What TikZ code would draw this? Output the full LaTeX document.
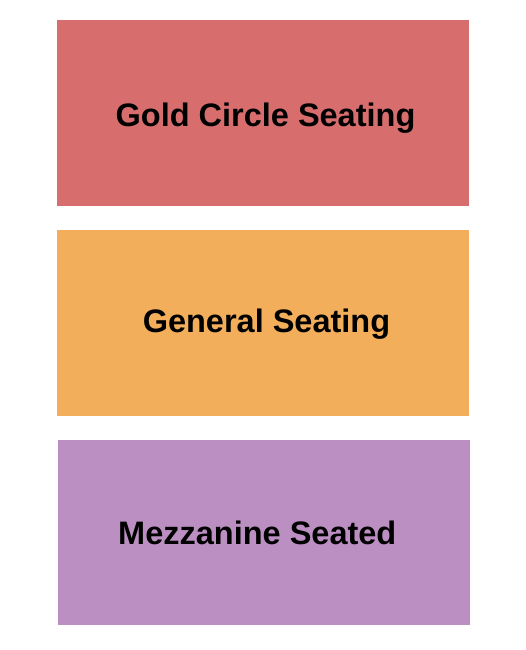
\documentclass[tikz,border=0pt]{standalone}
\usepackage{fontspec}
\setmainfont{Liberation Sans}
\usetikzlibrary{positioning}
\definecolor{goldred}{RGB}{215,109,109}
\definecolor{generalorange}{RGB}{242,174,90}
\definecolor{mezzpurple}{RGB}{187,143,194}

\begin{document}
\begin{tikzpicture}[x=1pt, y=-1pt, node distance=24pt,
        seatbox/.style={minimum width=412pt, minimum height=185pt, inner sep=0pt},
        seatlabel/.style={anchor=base, inner sep=0pt, text=black, font=\fontsize{32.5}{38}\selectfont\bfseries}]

        \useasboundingbox (0,0) rectangle (525,650);

        % Top box
        \node[seatbox, fill=goldred] (goldBox) at (263,113) {};
        \node[seatlabel] (goldText) at (265.5,127) {Gold Circle Seating};

        % Middle box
        \node[seatbox, fill=generalorange, minimum height=186pt, below=of goldBox] (generalBox) {};
        \node[seatlabel] (generalText) at (266.5,332.3) {General Seating};

        % Bottom box
        \node[seatbox, fill=mezzpurple, below=of generalBox, xshift=1pt] (mezzBox) {};
        \node[seatlabel] (mezzText) at (257.3,544.3) {Mezzanine Seated};

    \end{tikzpicture}
\end{document}
